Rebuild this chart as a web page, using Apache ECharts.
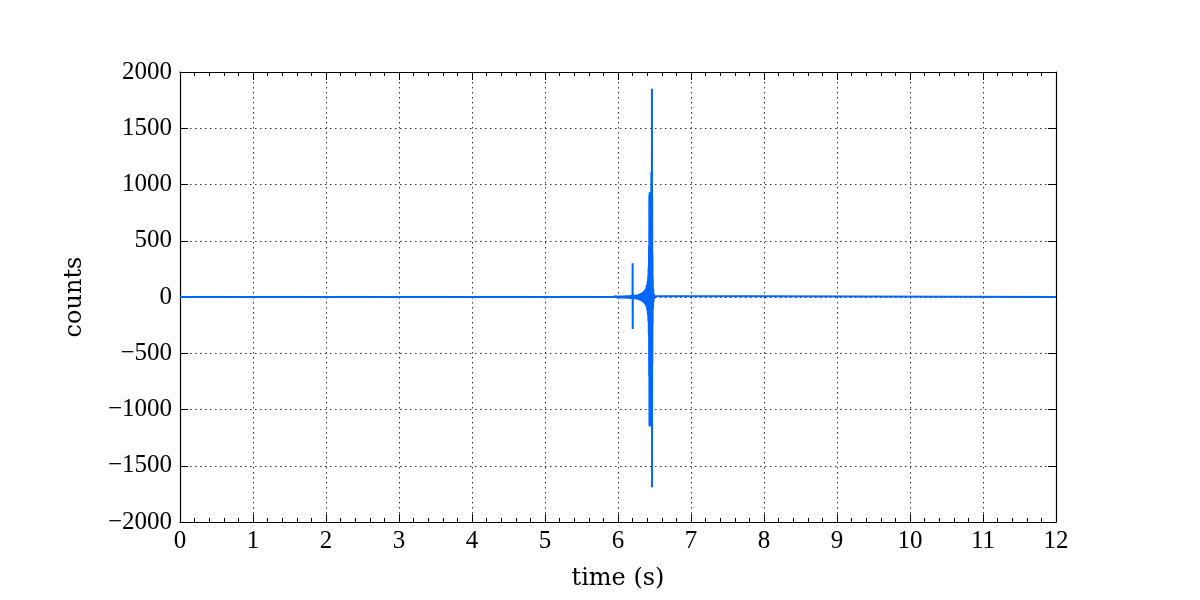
<!DOCTYPE html>
<html>
<head>
<meta charset="utf-8">
<script src="https://cdn.jsdelivr.net/npm/echarts@6/dist/echarts.min.js"></script>
<style>html,body{margin:0;padding:0;background:#fff}#c{width:1200px;height:600px}</style>
</head>
<body>
<div id="c"></div>
<script>
const xTicks = [0,1,2,3,4,5,6,7,8,9,10,11,12];
const yTicks = [-2000,-1500,-1000,-500,0,500,1000,1500,2000];
const xLabel = 'time (s)';
const yLabel = 'counts';
// [time (s), counts]
const samples = [
  [0,0],[5.94,0],
  [5.95,6],[5.96,-7],[5.97,8],[5.98,-8],[5.99,9],[6.00,-9],[6.01,10],[6.02,-10],[6.03,10],[6.04,-11],
  [6.05,11],[6.06,-11],[6.07,12],[6.08,-12],[6.09,12],[6.10,-12],[6.11,13],[6.12,-13],[6.13,13],[6.14,-14],
  [6.15,14],[6.16,-14],[6.17,15],[6.18,-15],[6.19,15],[6.199,-16],
  [6.2005,300],[6.2015,-285],[6.203,30],[6.21,-16],
  [6.22,17],[6.226,-17],[6.232,18],[6.238,-18],[6.244,19],[6.25,-20],[6.256,20],[6.262,-21],[6.268,22],
  [6.274,-23],[6.28,24],[6.286,-25],[6.292,27],[6.298,-28],[6.304,30],[6.31,-32],[6.316,34],[6.322,-36],
  [6.328,38],[6.334,-41],[6.34,44],[6.346,-47],[6.352,51],[6.358,-55],[6.364,60],[6.37,-65],[6.376,71],
  [6.382,-78],[6.388,86],[6.394,-95],[6.398,110],[6.402,-125],[6.406,140],[6.41,-160],[6.413,185],
  [6.416,-215],[6.419,260],[6.422,-330],[6.425,450],[6.427,-700],[6.429,900],[6.431,-1140],[6.433,925],
  [6.435,-1150],[6.437,930],[6.439,-1145],[6.441,925],[6.443,-1150],[6.445,930],[6.447,-1140],[6.449,935],
  [6.451,-1150],[6.453,930],[6.455,-1100],[6.457,1110],[6.459,-1120],[6.461,1115],[6.463,-1100],
  [6.465,1850],[6.4665,-1690],[6.468,900],[6.47,-600],[6.472,380],[6.474,-250],[6.476,170],[6.479,-110],
  [6.482,70],[6.486,-45],[6.49,28],[6.495,-17],[6.5,10],[6.51,-5],[6.52,0],[12,0]
];

const fmt = v => String(v).replace('-', '\u2212');
const tickFont = {fontFamily: 'Liberation Serif', fontSize: 25, color: '#000'};
const nameFont = {fontFamily: 'DejaVu Serif', fontSize: 24, color: '#000'};
const gridLine = {show: true, lineStyle: {color: '#000', type: [1.5, 3.5], width: 0.8}};
const axLine = {show: true, onZero: false, lineStyle: {color: '#000', width: 1.2}};

function xAx(pos, main) {
  return {
    type: 'value', position: pos, min: xTicks[0], max: xTicks[xTicks.length-1], interval: 1,
    axisLine: axLine,
    axisTick: {show: true, inside: true, length: 8, lineStyle: {color: '#000', width: 1}},
    minorTick: {show: true, splitNumber: 5, length: 4, lineStyle: {color: '#000', width: 1}},
    axisLabel: main ? Object.assign({show: true, margin: 7, formatter: fmt}, tickFont) : {show: false},
    splitLine: main ? gridLine : {show: false},
    name: main ? xLabel : '', nameLocation: 'middle', nameGap: 45, nameTextStyle: nameFont
  };
}
function yAx(pos, main) {
  return {
    type: 'value', position: pos, min: yTicks[0], max: yTicks[yTicks.length-1], interval: 500,
    axisLine: axLine,
    axisTick: {show: true, inside: true, length: 8, lineStyle: {color: '#000', width: 1}},
    axisLabel: main ? Object.assign({show: true, margin: 8, formatter: fmt}, tickFont) : {show: false},
    splitLine: main ? gridLine : {show: false},
    name: main ? yLabel : '', nameLocation: 'middle', nameGap: 93, nameTextStyle: nameFont
  };
}

const chart = echarts.init(document.getElementById('c'), null, {renderer: 'canvas'});
chart.setOption({
  animation: false,
  backgroundColor: '#fff',
  grid: {left: 180, right: 144, top: 72, bottom: 78, containLabel: false},
  xAxis: [xAx('bottom', true), xAx('top', false)],
  yAxis: [yAx('left', true), yAx('right', false)],
  series: [{
    type: 'line', xAxisIndex: 0, yAxisIndex: 0, data: samples, showSymbol: false,
    lineStyle: {color: '#0066ff', width: 2}, z: 3
  }]
});
</script>
</body>
</html>
